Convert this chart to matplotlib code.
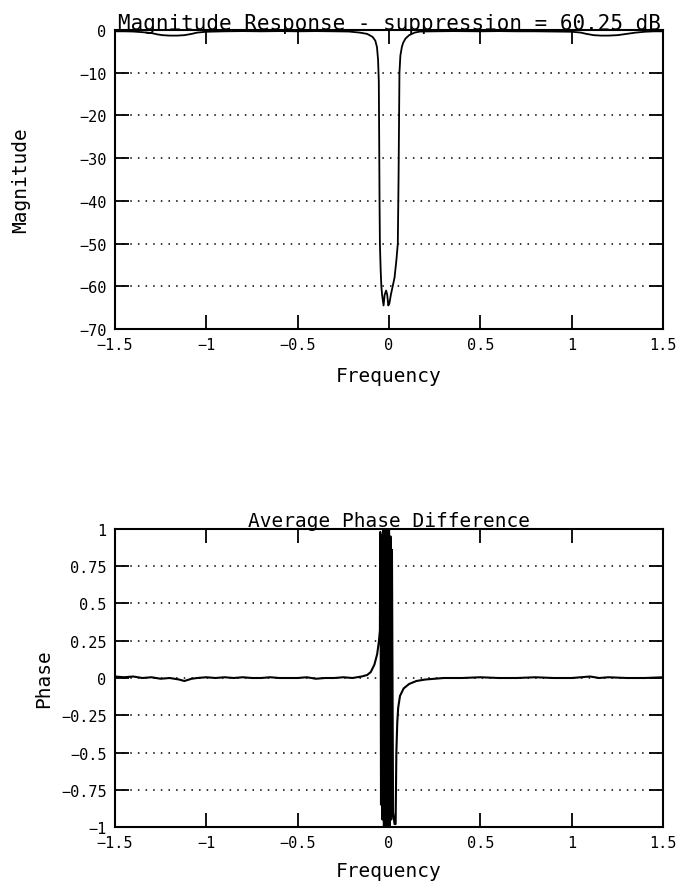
import matplotlib
matplotlib.use("Agg")
import matplotlib.pyplot as plt
import numpy as np

# ---------------- data ----------------
mag_freq = [-1.5, -1.45, -1.4, -1.35, -1.3, -1.27, -1.24, -1.2, -1.16, -1.12, -1.08, -1.05, -1.0,
            -0.9, -0.8, -0.7, -0.6, -0.5, -0.4, -0.3, -0.22, -0.16, -0.12, -0.09, -0.075, -0.066,
            -0.06, -0.056, -0.054, -0.052, -0.05, -0.046, -0.042, -0.038, -0.03, -0.024, -0.016,
            -0.01, -0.004, 0.002, 0.01, 0.02, 0.03, 0.04, 0.048, 0.052, 0.055, 0.057, 0.062,
            0.07, 0.077, 0.09, 0.11, 0.14, 0.17, 0.25, 0.35, 0.5, 0.6, 0.7, 0.8, 0.9, 1.0,
            1.05, 1.08, 1.12, 1.16, 1.2, 1.25, 1.3, 1.35, 1.4, 1.45, 1.5]
mag_db = [-0.3, -0.3, -0.35, -0.5, -0.7, -1.0, -1.2, -1.3, -1.3, -1.2, -0.9, -0.6, -0.4,
          -0.3, -0.25, -0.3, -0.25, -0.3, -0.25, -0.3, -0.35, -0.6, -0.9, -1.6, -2.5, -4.0,
          -7.0, -12.0, -25.0, -40.0, -50.0, -56.0, -60.0, -62.0, -64.5, -62.0, -61.0,
          -62.0, -64.5, -64.0, -62.0, -60.0, -58.0, -54.0, -50.0, -35.0, -20.0, -10.0, -6.0,
          -4.0, -3.0, -2.0, -1.2, -0.6, -0.35, -0.3, -0.25, -0.3, -0.25, -0.3, -0.3, -0.35, -0.4,
          -0.6, -0.9, -1.2, -1.3, -1.3, -1.2, -0.9, -0.6, -0.4, -0.3, -0.3]

ph_freq = [-1.5, -1.45, -1.4, -1.35, -1.3, -1.25, -1.2, -1.15, -1.12, -1.08, -1.05, -1.0, -0.95,
           -0.9, -0.85, -0.8, -0.75, -0.7, -0.65, -0.6, -0.55, -0.5, -0.45, -0.4, -0.35, -0.3,
           -0.25, -0.2, -0.15, -0.12, -0.10, -0.08, -0.065, -0.055, -0.05, -0.048, -0.046,
           -0.044, -0.040, -0.036, -0.032, -0.028, -0.024, -0.020, -0.016, -0.012, -0.008,
           -0.004, 0.000, 0.004, 0.008, 0.012, 0.016, 0.022, 0.030, 0.036, 0.040, 0.045, 0.05,
           0.06, 0.08, 0.11, 0.15, 0.2, 0.3, 0.4, 0.5, 0.6, 0.7, 0.8, 0.9, 1.0, 1.05, 1.1,
           1.15, 1.2, 1.3, 1.4, 1.5]
ph_val = [0.01, 0.005, 0.01, 0.0, 0.005, -0.005, 0.0, -0.01, -0.02, -0.005, 0.0, 0.005, 0.0,
          0.005, 0.0, 0.005, 0.0, 0.0, 0.005, 0.0, 0.0, 0.0, 0.005, -0.005, 0.0, 0.0,
          0.005, 0.0, 0.01, 0.02, 0.04, 0.09, 0.16, 0.25, 0.32, 0.98, 0.5,
          -0.85, 0.96, -0.95, 1.0, -1.0, 1.0, -1.0, 1.0, -1.0, 1.0,
          -1.0, 1.0, -1.0, 0.95, -0.95, 0.86, -0.9, -0.98, -0.98, -0.5, -0.3, -0.2,
          -0.12, -0.07, -0.04, -0.02, -0.01, 0.0, 0.0, 0.005, 0.0, 0.0, 0.005, 0.0, 0.0, 0.005, 0.01,
          0.0, 0.005, 0.0, 0.0, 0.005]

x_ticks = [-1.5, -1, -0.5, 0, 0.5, 1, 1.5]
x_ticklabels = ["\u22121.5", "\u22121", "\u22120.5", "0", "0.5", "1", "1.5"]
mag_yticks = [0, -10, -20, -30, -40, -50, -60, -70]
mag_yticklabels = ["0", "\u221210", "\u221220", "\u221230", "\u221240", "\u221250", "\u221260", "\u221270"]
ph_yticks = [1, 0.75, 0.5, 0.25, 0, -0.25, -0.5, -0.75, -1]
ph_yticklabels = ["1", "0.75", "0.5", "0.25", "0", "\u22120.25", "\u22120.5", "\u22120.75", "\u22121"]

# ---------------- style ----------------
FONT = "DejaVu Sans Mono"
plt.rcParams["font.family"] = [FONT]

fig = plt.figure(figsize=(6.76, 8.87), dpi=100)

ax1 = fig.add_axes([0.170, 0.628, 0.811, 0.337])
ax2 = fig.add_axes([0.170, 0.0665, 0.811, 0.336])


def style(ax):
    for s in ax.spines.values():
        s.set_linewidth(1.5)
        s.set_color("black")
    ax.tick_params(direction="in", length=10, width=1.3, top=True, right=True,
                   labelsize=11, pad=6, colors="black")
    ax.yaxis.grid(True, linestyle=(0, (1, 4)), color="black", linewidth=1.1)
    ax.xaxis.grid(False)
    ax.set_xlim(-1.5, 1.5)
    ax.set_xticks(x_ticks)
    ax.set_xticklabels(x_ticklabels)


ax1.plot(mag_freq, mag_db, color="black", linewidth=1.3)
style(ax1)
ax1.set_ylim(-70, 0)
ax1.set_yticks(mag_yticks)
ax1.set_yticklabels(mag_yticklabels)
ax1.set_title("Magnitude Response - suppression = 60.25 dB", fontsize=15, pad=1)
ax1.set_xlabel("Frequency", fontsize=14, labelpad=10)
ax1.set_ylabel("Magnitude", fontsize=14)
ax1.yaxis.set_label_coords(-0.155, 0.5)

ax2.plot(ph_freq, ph_val, color="black", linewidth=1.5)
style(ax2)
ax2.set_ylim(-1, 1)
ax2.set_yticks(ph_yticks)
ax2.set_yticklabels(ph_yticklabels)
ax2.set_title("Average Phase Difference", fontsize=14, pad=2)
ax2.set_xlabel("Frequency", fontsize=14, labelpad=8)
ax2.set_ylabel("Phase", fontsize=14)
ax2.yaxis.set_label_coords(-0.113, 0.5)

fig.savefig("out.png", dpi=100, facecolor="white")
